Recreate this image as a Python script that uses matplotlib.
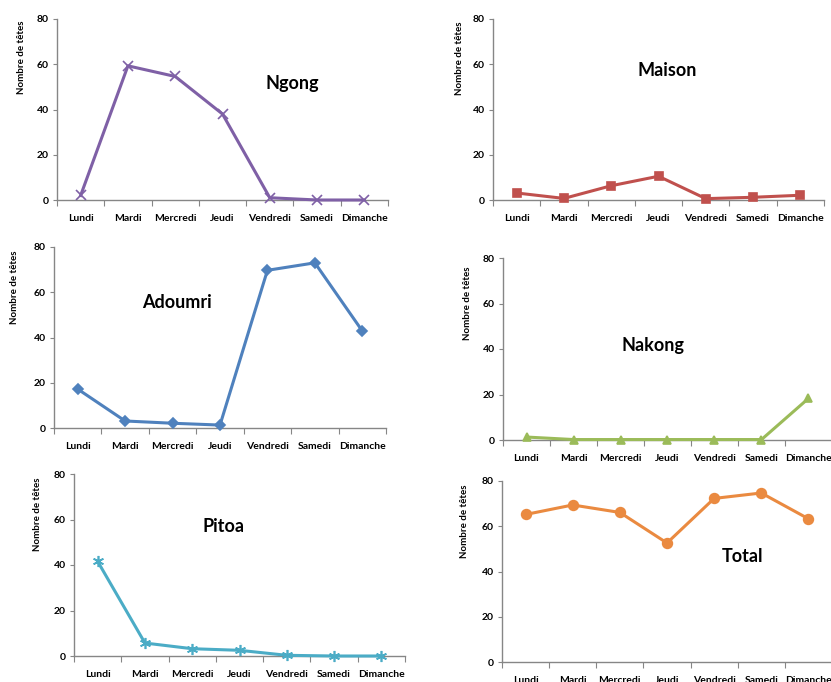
import matplotlib
matplotlib.use("Agg")
import matplotlib.pyplot as plt
from matplotlib.patches import Rectangle

plt.rcParams['font.family'] = ['Lato', 'DejaVu Sans']

jours = ["Lundi", "Mardi", "Mercredi", "Jeudi", "Vendredi", "Samedi", "Dimanche"]

ngong = [2, 59.3, 54.6, 38, 1, 0, 0]
maison = [3.1, 0.7, 6.3, 10.5, 0.6, 1.2, 2.1]
adoumri = [17.2, 3.1, 2.1, 1.3, 69.7, 73, 42.9]
nakong = [1.3, 0.2, 0.2, 0.2, 0.2, 0.2, 18.3]
pitoa = [41.6, 5.7, 3.2, 2.5, 0.3, 0, 0]
total = [65.2, 69.4, 66.1, 52.6, 72.3, 74.7, 63.3]

W, H = 831, 682
fig = plt.figure(figsize=(W / 100, H / 100), dpi=100)

def px(left, top, right, bottom):
    return [left / W, 1 - bottom / H, (right - left) / W, (bottom - top) / H]

# (data, name, colour, marker, markersize, axes box, title pos, ylabel pos)
panels = [
    (ngong, "Ngong", "#7f60a6", "x", 7, (57, 19, 388, 200), (292, 84), (22, 57)),
    (maison, "Maison", "#c0504d", "s", 6, (493, 19, 824, 200), (667, 71), (460, 58)),
    (adoumri, "Adoumri", "#4f81bd", "D", 5, (54, 247, 386, 428), (177, 302), (15, 287)),
    (nakong, "Nakong", "#9bbb59", "^", 6, (503, 258, 832, 440), (653, 346), (467, 303)),
    (pitoa, "Pitoa", "#4bacc6", (6, 2, 0), 8, (74, 474, 405, 656), (224, 527), (38, 514)),
    (total, "Total", "#ea8a40", "o", 7, (502, 481, 832, 662), (743, 557), (465, 521)),
]

x = [i + 0.5 for i in range(len(jours))]

for k, (vals, name, col, mk, ms, box, tpos, lpos) in enumerate(panels):
    ax = fig.add_axes(px(*box), zorder=2 if name == "Total" else 0)
    ax.plot(x, vals, color=col, lw=2.2, marker=mk, ms=ms, mew=1.2,
            mec=col, mfc=col, clip_on=False, zorder=3)
    ax.set_xlim(0, 7)
    ax.set_ylim(0, 80)
    ax.set_yticks([0, 20, 40, 60, 80])
    ax.set_xticks(range(8))
    ax.set_xticklabels([])
    ax.set_xticks(x, minor=True)
    ax.set_xticklabels(jours, minor=True, fontsize=7.5, fontweight="bold")
    ax.tick_params(axis="x", which="major", length=4, color="#868686", direction="out")
    ax.tick_params(axis="x", which="minor", length=0, pad=10)
    ax.tick_params(axis="y", length=3, color="#868686", labelsize=7.5, pad=3)
    for t in ax.get_yticklabels():
        t.set_fontweight("bold")
    for s in ["top", "right"]:
        ax.spines[s].set_visible(False)
    for s in ["left", "bottom"]:
        ax.spines[s].set_color("#868686")
        ax.spines[s].set_linewidth(1)
    ax.set_facecolor("none")
    fig.text(tpos[0] / W, 1 - tpos[1] / H, name, fontsize=13, fontweight="bold",
             ha="center", va="center")
    fig.text(lpos[0] / W, 1 - lpos[1] / H, "Nombre de têtes", fontsize=7,
             fontweight="bold", rotation=90, ha="center", va="center")

# the Total chart sits over the bottom of the Nakong labels
fig.add_artist(Rectangle((470 / W, 0), (W - 470) / W, 1 - 463 / H,
                         transform=fig.transFigure, facecolor="white",
                         edgecolor="none", zorder=1))

fig.savefig("out.png", dpi=100, facecolor="white")
